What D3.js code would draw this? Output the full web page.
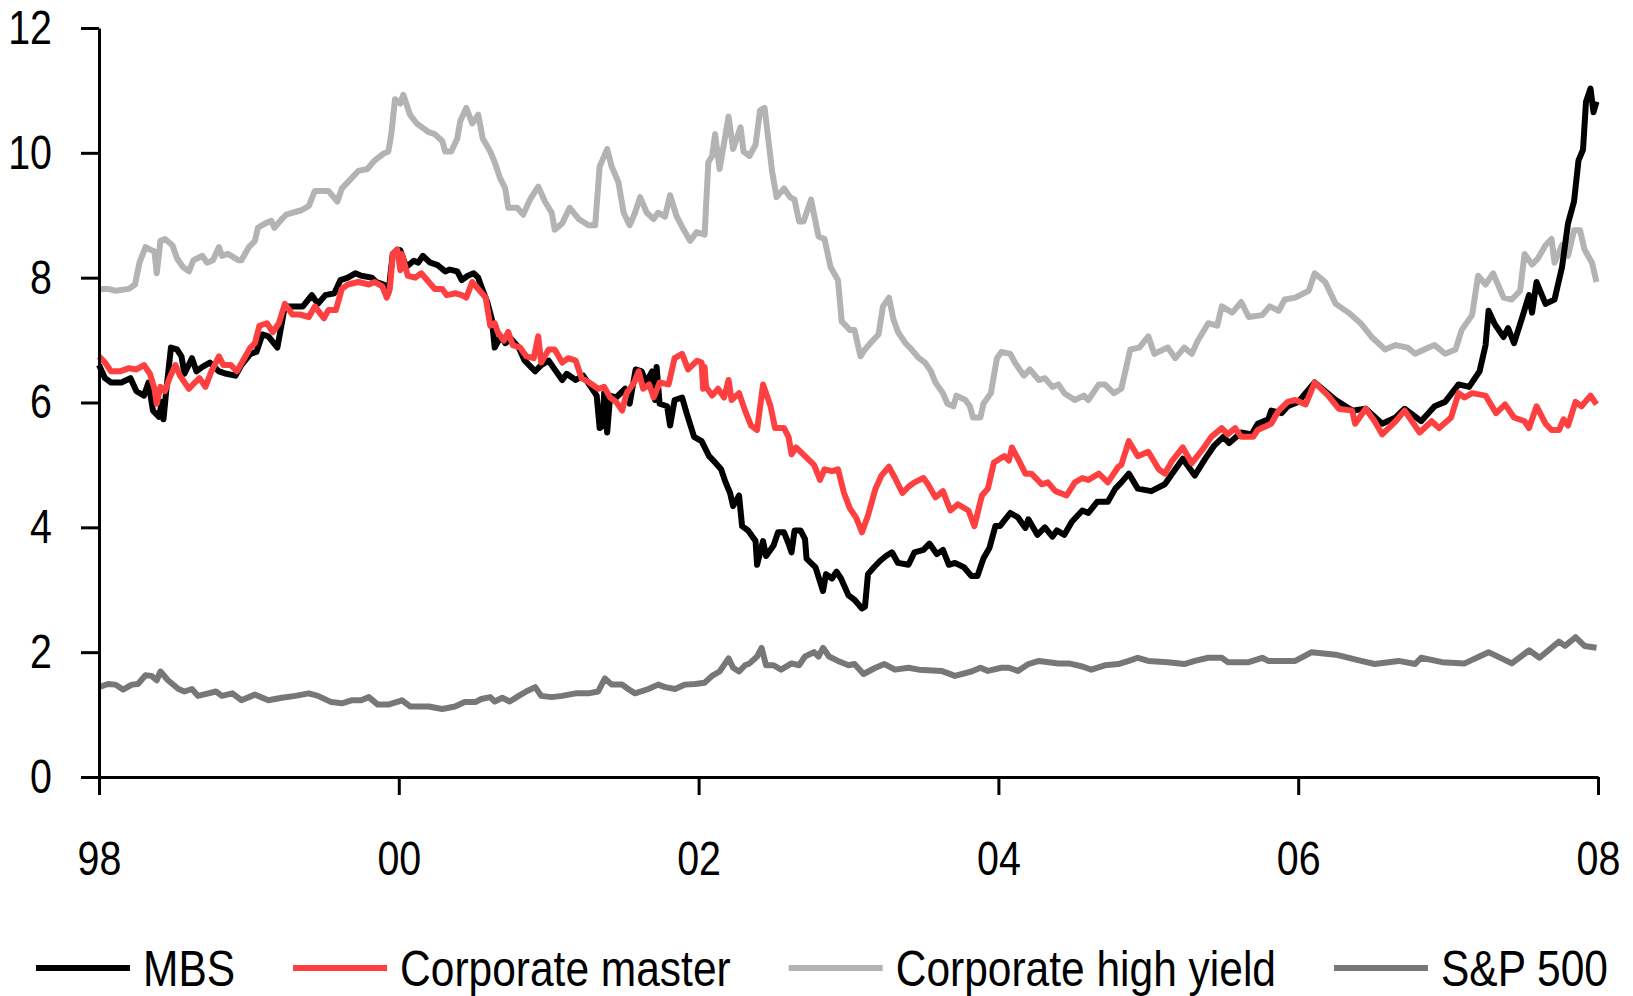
<!DOCTYPE html>
<html>
<head>
<meta charset="utf-8">
<script src="https://cdn.jsdelivr.net/npm/d3@7"></script>
<style>
  body { margin: 0; background: #fff; }
  text { font-family: "Liberation Sans", Arial, sans-serif; }
</style>
</head>
<body>
<svg id="chart" width="1633" height="996"></svg>
<script>
// [year, value] readings
var mbs = [[1998.00,6.60],[1998.04,6.39],[1998.08,6.32],[1998.15,6.32],[1998.21,6.39],[1998.25,6.18],[1998.30,6.11],[1998.33,6.32],[1998.36,5.87],[1998.40,5.77],[1998.42,6.01],[1998.43,5.73],[1998.45,6.22],[1998.48,6.88],[1998.52,6.85],[1998.55,6.74],[1998.57,6.46],[1998.62,6.71],[1998.65,6.50],[1998.69,6.57],[1998.74,6.64],[1998.80,6.50],[1998.85,6.46],[1998.91,6.43],[1998.95,6.60],[1999.01,6.78],[1999.05,6.81],[1999.09,7.09],[1999.13,7.06],[1999.19,6.88],[1999.24,7.54],[1999.31,7.54],[1999.36,7.54],[1999.42,7.72],[1999.46,7.58],[1999.51,7.72],[1999.57,7.75],[1999.61,7.96],[1999.66,8.00],[1999.71,8.07],[1999.75,8.03],[1999.82,8.00],[1999.85,7.93],[1999.90,7.89],[1999.93,7.75],[1999.96,8.38],[1999.99,8.45],
  [2000.01,8.44],[2000.05,8.17],[2000.10,8.27],[2000.13,8.24],[2000.16,8.35],[2000.21,8.24],[2000.26,8.20],[2000.31,8.10],[2000.34,8.13],[2000.39,8.10],[2000.42,7.96],[2000.46,8.03],[2000.50,8.07],[2000.53,8.00],[2000.55,7.86],[2000.59,7.61],[2000.62,7.34],[2000.64,6.88],[2000.68,7.06],[2000.71,6.95],[2000.75,7.02],[2000.80,6.88],[2000.84,6.67],[2000.91,6.50],[2000.95,6.60],[2001.00,6.67],[2001.04,6.53],[2001.09,6.36],[2001.12,6.46],[2001.18,6.36],[2001.23,6.43],[2001.29,6.22],[2001.32,6.11],[2001.34,5.59],[2001.36,5.63],[2001.37,6.15],[2001.39,5.52],[2001.41,6.11],[2001.45,6.08],[2001.51,6.22],[2001.54,5.98],[2001.58,6.53],[2001.62,6.50],[2001.65,6.32],[2001.69,6.50],[2001.71,6.04],[2001.72,6.57],[2001.74,5.98],[2001.79,5.94],[2001.81,5.63],[2001.84,6.04],[2001.89,6.08],[2001.92,5.83],[2001.97,5.45],
  [2002.02,5.38],[2002.07,5.14],[2002.11,5.04],[2002.15,4.93],[2002.18,4.72],[2002.21,4.55],[2002.23,4.34],[2002.27,4.51],[2002.29,4.02],[2002.33,3.95],[2002.38,3.78],[2002.39,3.40],[2002.43,3.78],[2002.45,3.54],[2002.50,3.71],[2002.53,3.92],[2002.57,3.92],[2002.60,3.74],[2002.62,3.60],[2002.64,3.95],[2002.68,3.95],[2002.71,3.81],[2002.72,3.50],[2002.78,3.36],[2002.83,2.98],[2002.85,3.25],[2002.89,3.18],[2002.92,3.29],[2002.95,3.18],[2003.00,2.91],[2003.04,2.84],[2003.09,2.70],[2003.11,2.73],[2003.13,3.25],[2003.17,3.36],[2003.21,3.46],[2003.25,3.54],[2003.29,3.60],[2003.33,3.43],[2003.40,3.40],[2003.44,3.60],[2003.50,3.64],[2003.54,3.74],[2003.59,3.57],[2003.63,3.64],[2003.67,3.40],[2003.71,3.43],[2003.77,3.36],[2003.82,3.22],[2003.86,3.22],[2003.90,3.50],[2003.94,3.67],[2003.98,4.02],
  [2004.01,4.02],[2004.08,4.23],[2004.13,4.16],[2004.18,3.99],[2004.20,4.13],[2004.26,3.88],[2004.31,4.00],[2004.36,3.85],[2004.39,3.95],[2004.44,3.88],[2004.49,4.09],[2004.56,4.27],[2004.60,4.23],[2004.66,4.41],[2004.73,4.41],[2004.78,4.62],[2004.82,4.72],[2004.87,4.86],[2004.93,4.62],[2005.02,4.58],[2005.11,4.69],[2005.18,4.93],[2005.23,5.10],[2005.31,4.83],[2005.38,5.10],[2005.44,5.31],[2005.50,5.45],[2005.54,5.35],[2005.62,5.52],[2005.69,5.49],[2005.73,5.66],[2005.80,5.73],[2005.82,5.87],[2005.89,5.83],[2005.93,5.94],[2006.00,6.01],
  [2006.11,6.32],[2006.25,6.04],[2006.36,5.87],[2006.45,5.90],[2006.56,5.66],[2006.65,5.76],[2006.71,5.90],[2006.82,5.70],[2006.91,5.94],[2006.98,6.01],[2007.07,6.29],[2007.14,6.25],[2007.21,6.50],[2007.25,6.92],[2007.27,7.47],[2007.31,7.26],[2007.37,7.05],[2007.40,7.19],[2007.44,6.95],[2007.49,7.33],[2007.54,7.72],[2007.56,7.44],[2007.59,7.93],[2007.65,7.58],[2007.71,7.65],[2007.76,8.17],[2007.80,8.87],[2007.84,9.22],[2007.87,9.88],[2007.90,10.05],[2007.92,10.82],[2007.95,11.03],[2007.97,10.65],[2007.99,10.82]];

var corpMaster = [[1998.00,6.74],[1998.04,6.64],[1998.08,6.50],[1998.14,6.50],[1998.20,6.55],[1998.25,6.53],[1998.30,6.60],[1998.34,6.46],[1998.37,6.22],[1998.385,5.98],[1998.41,6.25],[1998.44,6.18],[1998.47,6.39],[1998.51,6.60],[1998.54,6.43],[1998.60,6.22],[1998.64,6.32],[1998.67,6.39],[1998.71,6.25],[1998.75,6.50],[1998.80,6.74],[1998.83,6.60],[1998.88,6.60],[1998.92,6.50],[1998.96,6.67],[1999.01,6.88],[1999.04,6.95],[1999.07,7.23],[1999.12,7.27],[1999.16,7.13],[1999.20,7.27],[1999.24,7.58],[1999.29,7.41],[1999.34,7.41],[1999.40,7.37],[1999.44,7.54],[1999.50,7.35],[1999.53,7.48],[1999.58,7.48],[1999.62,7.82],[1999.66,7.89],[1999.73,7.93],[1999.80,7.89],[1999.84,7.93],[1999.89,7.86],[1999.92,7.68],[1999.94,7.82],[1999.96,8.38],[1999.99,8.45],
  [2000.01,8.12],[2000.02,8.38],[2000.06,8.03],[2000.11,8.00],[2000.15,8.07],[2000.20,7.93],[2000.24,7.82],[2000.29,7.82],[2000.32,7.72],[2000.38,7.75],[2000.42,7.72],[2000.45,7.68],[2000.49,7.93],[2000.53,7.82],[2000.58,7.68],[2000.61,7.23],[2000.64,7.27],[2000.66,7.13],[2000.70,6.99],[2000.73,7.13],[2000.76,6.92],[2000.81,6.88],[2000.85,6.74],[2000.90,6.71],[2000.93,7.06],[2000.95,6.64],[2001.00,6.85],[2001.04,6.85],[2001.09,6.64],[2001.13,6.71],[2001.18,6.67],[2001.22,6.39],[2001.27,6.32],[2001.33,6.22],[2001.37,6.25],[2001.41,6.08],[2001.45,6.01],[2001.49,5.87],[2001.52,6.15],[2001.57,6.32],[2001.60,6.50],[2001.63,6.22],[2001.67,6.29],[2001.70,6.08],[2001.74,6.32],[2001.80,6.29],[2001.84,6.71],[2001.89,6.78],[2001.93,6.53],[2001.99,6.67],[2002.02,6.64],[2002.03,6.22],[2002.04,6.57],
  [2002.05,6.25],[2002.09,6.11],[2002.13,6.22],[2002.17,6.08],[2002.20,6.36],[2002.22,6.04],[2002.27,6.15],[2002.31,5.87],[2002.35,5.63],[2002.39,5.56],[2002.43,6.29],[2002.48,5.94],[2002.51,5.59],[2002.57,5.59],[2002.60,5.45],[2002.62,5.17],[2002.65,5.28],[2002.71,5.14],[2002.77,5.00],[2002.81,4.76],[2002.84,4.93],[2002.89,4.90],[2002.93,4.93],[2002.97,4.55],[2003.01,4.30],[2003.05,4.16],[2003.09,3.92],[2003.13,4.19],[2003.18,4.62],[2003.22,4.83],[2003.27,4.97],[2003.31,4.79],[2003.36,4.55],[2003.40,4.65],[2003.44,4.72],[2003.50,4.79],[2003.53,4.69],[2003.58,4.48],[2003.63,4.58],[2003.68,4.27],[2003.73,4.37],[2003.80,4.27],[2003.84,4.02],[2003.89,4.51],[2003.93,4.62],[2003.97,5.04],[2004.01,5.10],
  [2004.04,5.14],[2004.07,5.07],[2004.09,5.28],[2004.13,5.10],[2004.18,4.86],[2004.22,4.86],[2004.29,4.69],[2004.33,4.72],[2004.38,4.58],[2004.455,4.51],[2004.51,4.72],[2004.56,4.79],[2004.60,4.76],[2004.67,4.86],[2004.73,4.72],[2004.80,4.97],[2004.82,5.00],[2004.87,5.38],[2004.93,5.14],[2005.00,5.21],[2005.07,4.93],[2005.11,4.86],[2005.16,5.07],[2005.23,5.28],[2005.29,5.03],[2005.36,5.24],[2005.42,5.45],[2005.49,5.59],[2005.53,5.49],[2005.58,5.59],[2005.62,5.45],[2005.70,5.45],[2005.73,5.56],[2005.82,5.66],[2005.87,5.87],[2005.93,6.01],[2005.98,6.04],
  [2006.05,5.97],[2006.11,6.32],[2006.20,6.11],[2006.27,5.90],[2006.36,5.87],[2006.38,5.66],[2006.45,5.90],[2006.51,5.70],[2006.56,5.49],[2006.65,5.70],[2006.71,5.87],[2006.81,5.52],[2006.89,5.70],[2006.94,5.59],[2007.02,5.76],[2007.07,6.15],[2007.11,6.08],[2007.16,6.15],[2007.25,6.11],[2007.32,5.83],[2007.38,5.97],[2007.44,5.76],[2007.51,5.70],[2007.54,5.59],[2007.59,5.94],[2007.65,5.66],[2007.69,5.56],[2007.74,5.56],[2007.77,5.73],[2007.80,5.63],[2007.85,6.01],[2007.89,5.94],[2007.95,6.11],[2007.99,5.97]];

var corpHighYield = [[1998.00,7.82],[1998.06,7.82],[1998.11,7.79],[1998.20,7.82],[1998.24,7.89],[1998.27,8.24],[1998.31,8.49],[1998.34,8.45],[1998.37,8.42],[1998.385,8.07],[1998.41,8.59],[1998.44,8.62],[1998.49,8.52],[1998.52,8.31],[1998.56,8.17],[1998.60,8.10],[1998.63,8.28],[1998.69,8.35],[1998.72,8.24],[1998.76,8.28],[1998.80,8.49],[1998.82,8.35],[1998.86,8.38],[1998.93,8.28],[1998.95,8.28],[1999.00,8.49],[1999.04,8.59],[1999.06,8.80],[1999.11,8.87],[1999.15,8.91],[1999.17,8.80],[1999.22,8.94],[1999.25,9.01],[1999.29,9.04],[1999.35,9.08],[1999.40,9.15],[1999.44,9.39],[1999.49,9.39],[1999.53,9.39],[1999.59,9.22],[1999.62,9.43],[1999.66,9.53],[1999.73,9.71],[1999.79,9.74],[1999.84,9.88],[1999.90,9.99],[1999.93,10.02],[1999.95,10.30],[1999.975,10.86],[2000.01,10.79],[2000.03,10.93],
  [2000.075,10.61],[2000.12,10.47],[2000.16,10.40],[2000.20,10.33],[2000.24,10.30],[2000.29,10.19],[2000.31,10.02],[2000.35,10.02],[2000.39,10.23],[2000.41,10.51],[2000.45,10.72],[2000.49,10.47],[2000.53,10.61],[2000.56,10.23],[2000.61,10.02],[2000.64,9.85],[2000.675,9.60],[2000.71,9.43],[2000.73,9.12],[2000.79,9.12],[2000.83,9.01],[2000.875,9.25],[2000.93,9.46],[2000.975,9.22],[2001.02,9.04],[2001.04,8.77],[2001.09,8.87],[2001.14,9.12],[2001.20,8.94],[2001.265,8.84],[2001.31,8.84],[2001.34,9.78],[2001.39,10.06],[2001.42,9.78],[2001.465,9.53],[2001.50,9.04],[2001.54,8.84],[2001.576,9.04],[2001.61,9.29],[2001.654,9.04],[2001.70,8.94],[2001.73,9.04],[2001.776,8.98],[2001.81,9.32],[2001.854,8.98],[2001.90,8.77],[2001.943,8.59],[2001.987,8.73],[2002.04,8.69],
  [2002.065,9.85],[2002.09,9.95],[2002.11,10.30],[2002.14,9.74],[2002.20,10.58],[2002.23,10.06],[2002.28,10.41],[2002.30,10.02],[2002.34,9.95],[2002.38,10.13],[2002.41,10.68],[2002.44,10.72],[2002.49,9.71],[2002.52,9.29],[2002.57,9.43],[2002.61,9.29],[2002.64,9.25],[2002.67,8.90],[2002.70,8.90],[2002.75,9.25],[2002.80,8.66],[2002.84,8.62],[2002.88,8.17],[2002.93,7.96],[2002.955,7.30],[2003.01,7.16],[2003.04,7.16],[2003.08,6.74],[2003.11,6.85],[2003.16,6.99],[2003.20,7.09],[2003.23,7.54],[2003.27,7.68],[2003.30,7.33],[2003.33,7.13],[2003.38,6.95],[2003.42,6.85],[2003.47,6.71],[2003.51,6.64],[2003.55,6.50],[2003.58,6.32],[2003.63,6.15],[2003.66,5.98],[2003.70,5.94],[2003.72,6.11],[2003.78,6.04],[2003.81,5.94],[2003.83,5.76],[2003.88,5.76],[2003.90,5.98],[2003.95,6.15],[2003.99,6.71],[2004.02,6.81],
  [2004.08,6.78],[2004.11,6.64],[2004.17,6.43],[2004.21,6.53],[2004.27,6.36],[2004.31,6.39],[2004.36,6.25],[2004.40,6.29],[2004.44,6.15],[2004.51,6.04],[2004.57,6.11],[2004.60,6.04],[2004.67,6.29],[2004.71,6.29],[2004.77,6.15],[2004.82,6.22],[2004.88,6.85],[2004.94,6.88],[2005.00,7.06],[2005.04,6.78],[2005.13,6.88],[2005.18,6.71],[2005.24,6.88],[2005.29,6.78],[2005.33,6.99],[2005.40,7.27],[2005.46,7.23],[2005.49,7.54],[2005.56,7.44],[2005.62,7.61],[2005.67,7.37],[2005.76,7.40],[2005.81,7.54],[2005.87,7.47],[2005.91,7.65],[2005.98,7.68],
  [2006.07,7.79],[2006.11,8.07],[2006.18,7.93],[2006.25,7.58],[2006.335,7.44],[2006.42,7.26],[2006.49,7.05],[2006.58,6.85],[2006.65,6.92],[2006.73,6.88],[2006.78,6.78],[2006.87,6.88],[2006.91,6.92],[2006.98,6.78],[2007.05,6.85],[2007.09,7.16],[2007.16,7.40],[2007.20,8.03],[2007.25,7.89],[2007.30,8.07],[2007.37,7.68],[2007.425,7.65],[2007.48,7.79],[2007.51,8.38],[2007.56,8.21],[2007.60,8.31],[2007.65,8.52],[2007.69,8.62],[2007.71,8.24],[2007.76,8.52],[2007.80,8.35],[2007.84,8.76],[2007.88,8.76],[2007.91,8.45],[2007.96,8.24],[2007.99,7.93]];

var sp500 = [[1998.00,1.44],[1998.06,1.49],[1998.11,1.48],[1998.16,1.40],[1998.22,1.48],[1998.26,1.49],[1998.31,1.63],[1998.35,1.62],[1998.385,1.55],[1998.41,1.69],[1998.46,1.55],[1998.53,1.41],[1998.57,1.37],[1998.62,1.41],[1998.66,1.30],[1998.73,1.34],[1998.78,1.37],[1998.82,1.30],[1998.89,1.34],[1998.95,1.23],[1999.04,1.32],[1999.13,1.23],[1999.22,1.27],[1999.31,1.30],[1999.40,1.34],[1999.46,1.30],[1999.55,1.20],[1999.62,1.18],[1999.69,1.23],[1999.75,1.23],[1999.80,1.28],[1999.86,1.16],[1999.93,1.16],[2000.00,1.21],
  [2000.02,1.23],[2000.075,1.13],[2000.20,1.13],[2000.29,1.09],[2000.375,1.13],[2000.44,1.20],[2000.51,1.20],[2000.55,1.25],[2000.61,1.28],[2000.64,1.21],[2000.69,1.27],[2000.74,1.21],[2000.80,1.30],[2000.85,1.37],[2000.91,1.44],[2000.95,1.30],[2001.02,1.28],[2001.09,1.30],[2001.18,1.34],[2001.265,1.34],[2001.33,1.37],[2001.375,1.58],[2001.42,1.48],[2001.49,1.48],[2001.53,1.41],[2001.576,1.34],[2001.665,1.41],[2001.73,1.48],[2001.776,1.44],[2001.843,1.41],[2001.91,1.48],[2001.976,1.49],[2002.04,1.51],
  [2002.09,1.62],[2002.14,1.69],[2002.20,1.90],[2002.23,1.75],[2002.27,1.69],[2002.31,1.79],[2002.34,1.82],[2002.39,1.93],[2002.42,2.07],[2002.45,1.79],[2002.50,1.79],[2002.55,1.72],[2002.62,1.82],[2002.67,1.79],[2002.71,1.93],[2002.77,2.00],[2002.80,1.93],[2002.83,2.07],[2002.87,1.93],[2002.93,1.86],[2003.00,1.79],[2003.04,1.81],[2003.10,1.65],[2003.18,1.75],[2003.24,1.81],[2003.31,1.72],[2003.40,1.75],[2003.47,1.72],[2003.62,1.70],[2003.71,1.62],[2003.82,1.69],[2003.88,1.75],[2003.93,1.70],[2004.02,1.75],
  [2004.07,1.75],[2004.13,1.70],[2004.20,1.81],[2004.27,1.86],[2004.40,1.82],[2004.47,1.82],[2004.56,1.77],[2004.62,1.72],[2004.71,1.79],[2004.80,1.81],[2004.87,1.86],[2004.93,1.91],[2005.00,1.86],[2005.13,1.84],[2005.24,1.81],[2005.31,1.86],[2005.40,1.91],[2005.49,1.91],[2005.53,1.84],[2005.67,1.84],[2005.76,1.91],[2005.80,1.86],[2005.98,1.86],[2006.05,1.95],
  [2006.09,2.00],[2006.25,1.96],[2006.42,1.86],[2006.51,1.81],[2006.67,1.86],[2006.78,1.81],[2006.82,1.91],[2006.96,1.84],[2007.11,1.82],[2007.27,2.00],[2007.425,1.82],[2007.54,2.03],[2007.61,1.91],[2007.74,2.17],[2007.78,2.10],[2007.85,2.24],[2007.91,2.10],[2007.99,2.07]];

var seriesNames = ["MBS", "Corporate master", "Corporate high yield", "S&P 500"];
var seriesColors = ["#000000", "#ff4040", "#b3b3b3", "#777777"];
var seriesData = [mbs, corpMaster, corpHighYield, sp500];
var yTicks = [0, 2, 4, 6, 8, 10, 12];
var xTicks = [1998, 2000, 2002, 2004, 2006, 2008];

var margin = {top: 28, right: 35, bottom: 219, left: 99},
    width = 1633 - margin.left - margin.right,
    height = 996 - margin.top - margin.bottom;

var svg = d3.select("#chart");
var g = svg.append("g")
    .attr("transform", "translate(" + margin.left + "," + margin.top + ")");

var x = d3.scaleLinear().domain([1998, 2008]).range([0, width]);
var y = d3.scaleLinear().domain([0, 12]).range([height, 0]);

var line = d3.line()
    .x(function(d) { return x(d[0]); })
    .y(function(d) { return y(d[1]); });

// squeeze axis text horizontally, the original uses a narrow face
function narrow(sel, k) {
    sel.each(function() {
        var w = this.getComputedTextLength();
        d3.select(this).attr("textLength", w * k).attr("lengthAdjust", "spacingAndGlyphs");
    });
}

// draw order: high yield and S&P underneath, then MBS, then corporate master
[2, 3, 0, 1].forEach(function(i) {
    g.append("path")
        .datum(seriesData[i])
        .attr("fill", "none")
        .attr("stroke", seriesColors[i])
        .attr("stroke-width", 6)
        .attr("stroke-linejoin", "round")
        .attr("d", line);
});

// axes
var yAxis = g.append("g")
    .call(d3.axisLeft(y).tickValues(yTicks).tickSize(18).tickSizeOuter(0).tickPadding(29));
var xAxis = g.append("g")
    .attr("transform", "translate(0," + height + ")")
    .call(d3.axisBottom(x).tickValues(xTicks).tickSize(18).tickSizeOuter(0).tickPadding(46)
        .tickFormat(function(d) { return String(d).slice(2); }));

[yAxis, xAxis].forEach(function(a) {
    a.select(".domain").attr("stroke", "#000").attr("stroke-width", 3);
    a.selectAll(".tick line").attr("stroke", "#000").attr("stroke-width", 3);
    a.selectAll(".tick text")
        .attr("fill", "#000")
        .style("font-size", "48px")
        .style("font-family", "'Liberation Sans', Arial, sans-serif")
        .call(narrow, 0.82);
});

// legend, labels condensed with a horizontal scale
var squeeze = 0.85;
var legend = svg.append("g").attr("transform", "translate(36,968)");
var lx = 0;
seriesNames.forEach(function(name, i) {
    var item = legend.append("g").attr("transform", "translate(" + lx + ",0)");
    item.append("line")
        .attr("x1", 0).attr("x2", 94)
        .attr("stroke", seriesColors[i])
        .attr("stroke-width", 6);
    var t = item.append("g")
        .attr("transform", "translate(107,0) scale(" + squeeze + ",1)")
        .append("text")
        .attr("dy", "0.35em")
        .style("font-size", "50px")
        .text(name);
    lx += 107 + t.node().getComputedTextLength() * squeeze + 58;
});
</script>
</body>
</html>
